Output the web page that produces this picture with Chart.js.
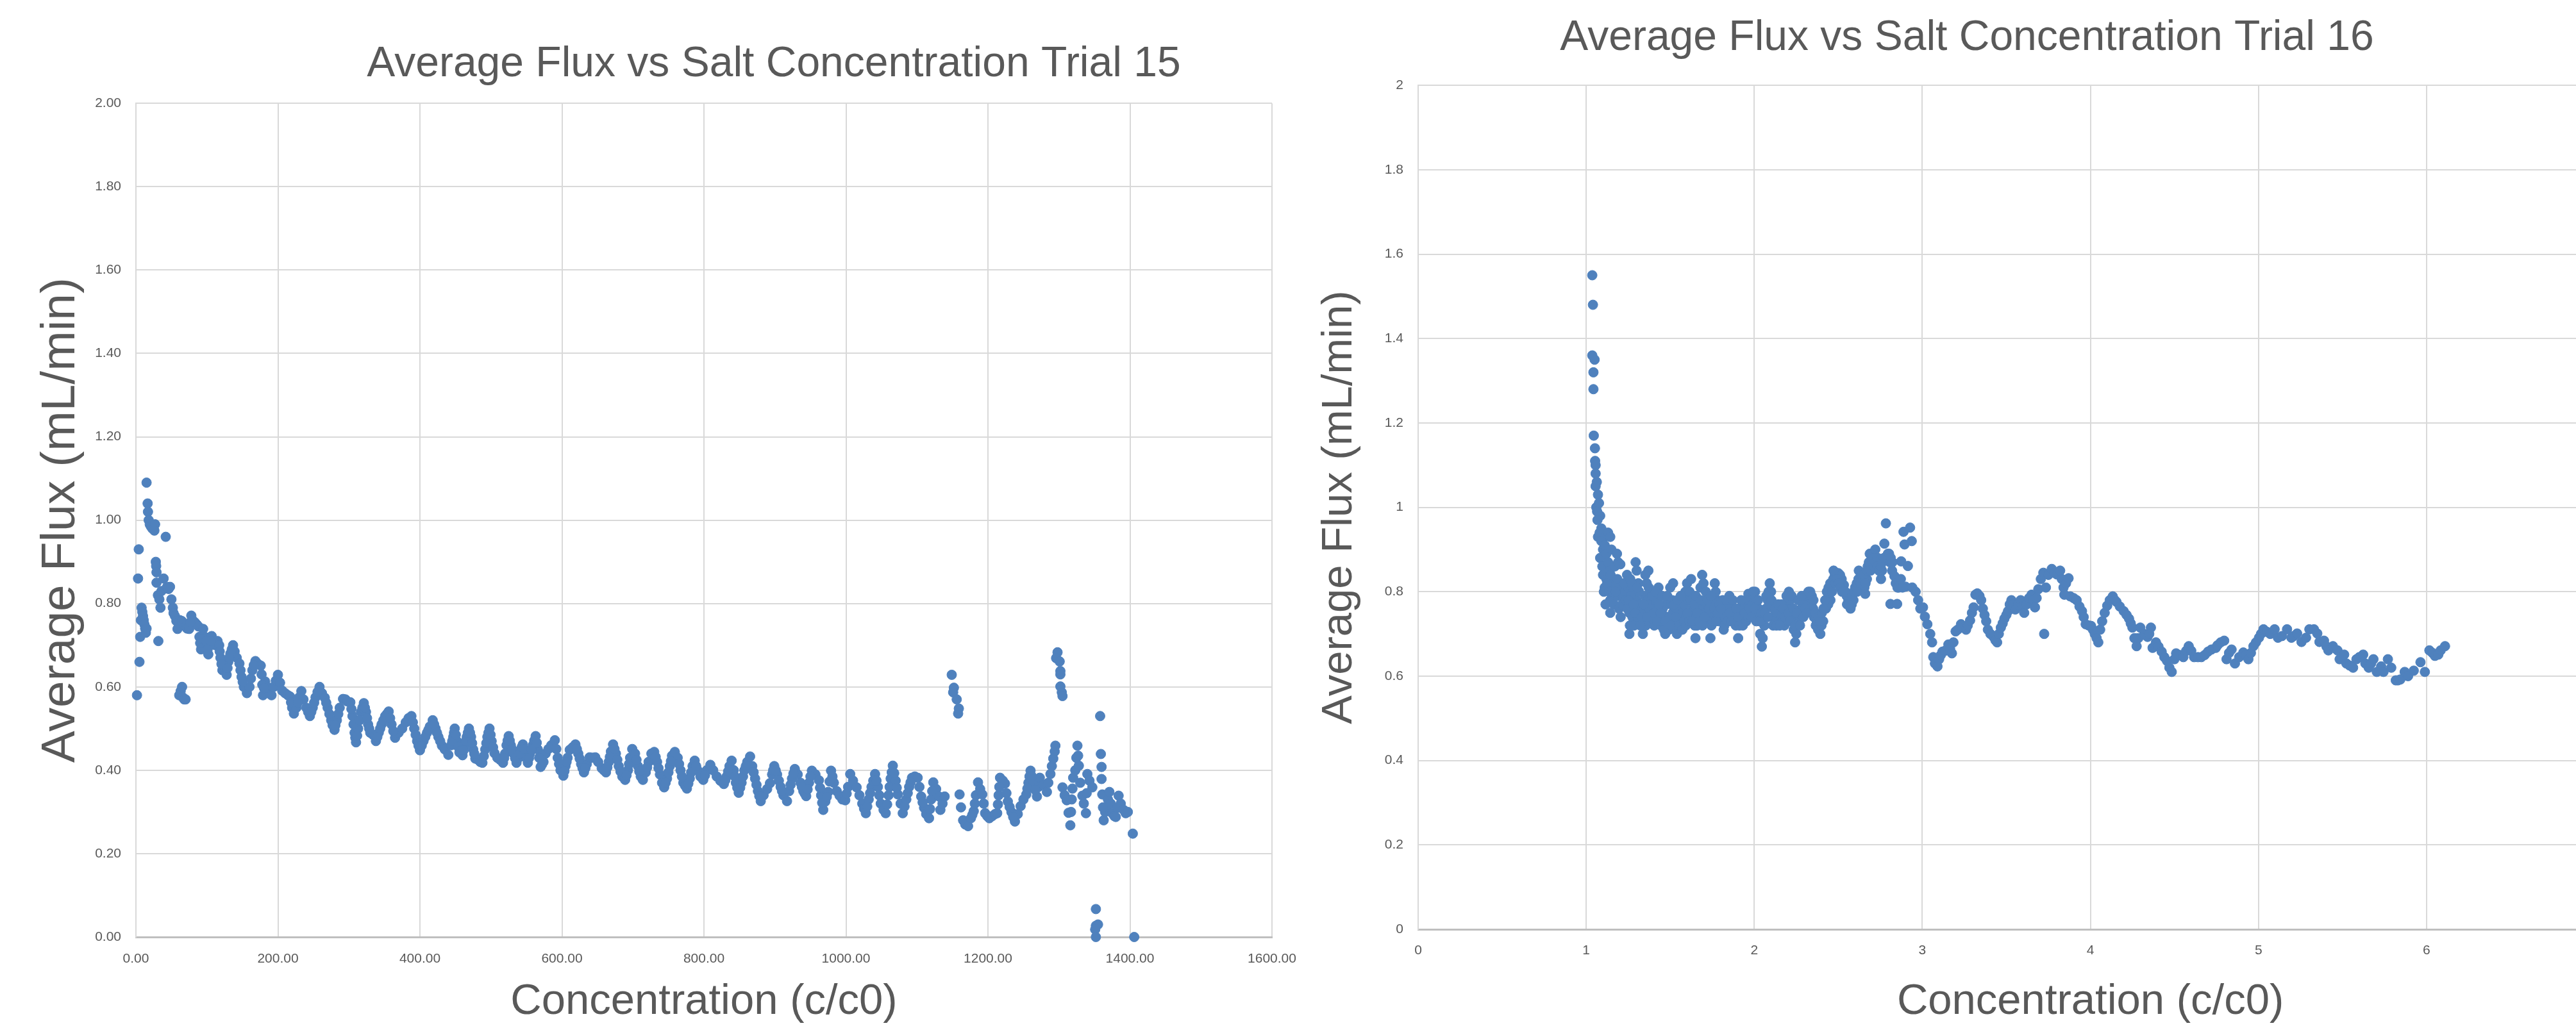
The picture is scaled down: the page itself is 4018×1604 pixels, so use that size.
<!DOCTYPE html>
<html>
<head>
<meta charset="utf-8">
<title>Average Flux vs Salt Concentration</title>
<script src="https://cdn.jsdelivr.net/npm/chart.js@4.4.1/dist/chart.umd.min.js"></script>
<style>
  html, body { margin: 0; padding: 0; background: #fff; overflow: hidden; width: 4018px; height: 1604px; }
  canvas { position: absolute; top: 0; }
  #trial15 { left: 0; }
  #trial16 { left: 1800px; }
</style>
</head>
<body>
<canvas id="trial15" width="2414" height="1604"></canvas>
<canvas id="trial16" width="2536" height="1604"></canvas>
<script>
"use strict";

// ---- Trial 15: [concentration c/c0, average flux mL/min] ----
const t15Start = [
  [1.5,.58],[3,.86],[4,.93],[5,.66],[6,.72],[7,.76],[8,.79],[9,.78],[10,.77],[11,.76],
  [12,.75],[13,.74],[14,.73],[15,.74],[15,1.09],[16.5,1.04],[17,1.02],[18,1.00],[19.5,.99],[21,.985],
  [23,.98],[25,.98],[27,.99],[26,.975],[28,.90],[28.5,.89],[29,.875],[31.6,.71],[29,.85],[31,.82],
  [33,.81],[34.6,.79],[36,.83],[39,.86],[42,.96],[44,.84],[46,.835],[48,.84],[50,.81],[52,.79],
  [53,.777],[55,.77],[57,.758],[58.6,.739],[61,.58],[63,.59],[65,.60],[66,.575],[68,.57],[70,.57]
];
const t15Early = [
  [62,.76],[64.7,.758],[67,.75],[70,.745],[72,.74],[75,.739],[78,.771],[80,.76],[83,.755],[85.6,.75],
  [88,.745],[91.7,.69],[94.7,.739],[97,.72],[100,.70],[102,.678],[104,.70],[106.7,.722],[109,.71],[112,.70],
  [115,.71],[117.3,.70],[119,.67],[121.8,.64],[124,.65],[127.8,.629],[130,.66],[133,.68],[136.8,.70],[139,.685],
  [142,.67],[145.8,.656],[148.8,.624],[152,.60],[156.3,.585],[160,.60],[164,.64],[168.3,.662],[172,.655],[175.8,.651],
  [179,.58],[182,.613],[185,.60],[188,.585],[191,.58],[194,.60],[197,.615],[200,.629],[203,.61],[206,.591],
  [210,.585],[214,.58],[217,.577],[220,.55],[222.5,.536],[226,.55],[230,.575],[233,.59],[236,.57],[240,.55],
  [245,.53],[249,.55],[253,.575],[258.6,.60],[262,.585],[266,.574],[270,.55],[275,.52],[279.7,.497],[283,.52],
  [287,.55],[291.7,.571],[295,.57],[298,.565],[302,.563],[305,.53],[308,.49],[310,.467],[313,.50],[317,.54],
  [321,.561],[324,.54],[327,.51],[330,.49],[334,.485],[338,.47],[342,.49],[346,.51],[351,.53],[356,.541],
  [360,.51],[365,.478],[370,.49],[375,.50],[380,.515],[384,.525],[388,.53],[392,.50],[396,.47],[400,.448],
  [405,.47],[410,.49],[414,.505],[418,.52],[422,.50],[426,.48],[431,.459],[435,.45],[440,.437],[444,.46],
  [447,.48],[449,.50],[452,.47],[455.6,.443]
];
const t15Middle = [
  [458,.46],[460,.436],[463,.46],[466,.48],[469,.50],[472,.48],[475,.45],[478,.428],[482,.425],[485,.42],
  [488,.418],[492,.45],[495,.48],[498,.50],[501,.47],[505,.441],[509,.43],[513,.425],[517,.418],[520,.44],
  [522,.46],[525,.482],[528,.46],[532,.44],[536,.418],[539,.43],[542,.45],[545,.462],[548,.44],[552,.418],
  [555,.44],[559,.46],[563,.482],[566,.45],[570,.408],[574,.42],[577,.44],[581,.451],[585,.46],[590,.472],
  [594,.43],[598,.40],[602,.387],[605,.41],[608,.43],[611,.449],[615,.455],[619,.462],[623,.44],[627,.415],
  [631,.395],[635,.415],[639,.431],[643,.43],[647,.431],[651,.42],[656,.405],[662,.395],[666,.42],[669,.445],
  [672,.462],[676,.44],[680,.41],[685,.385],[689,.377],[693,.40],[696,.43],[699,.451],[703,.44],[707,.41],
  [711,.385],[714,.377],[718,.395],[722,.42],[726,.44],[730,.444],[734,.42],[738,.39],[741,.37],[744,.359],
  [748,.38],[752,.41],[755,.435],[759,.444],[763,.43],[767,.40],[771,.37],[776,.356],[780,.38],[784,.41],
  [787,.423],[791,.40],[795,.385],[799,.377],[804,.40],[809,.413],[813,.40],[818,.385],[823,.375],[828,.367],
  [832,.385],[836,.41],[839,.423],[842,.40],[845,.37],[849,.346],[853,.37],[857,.40],[861,.42],[865,.433],
  [868,.41],[872,.38],[876,.35],[880,.326],[884,.34],[889,.355],[893,.369],[896,.39],[899,.41],[903,.39],
  [908,.36],[912,.34],[917,.326],[920,.35],[924,.38],[928,.403],[932,.39],[936,.37],[940,.35],[944,.338]
];
const t15Late = [
  [948,.37],[952,.399],[957,.39],[962,.376],[965,.34],[968,.305],[971,.325],[975,.348],[979,.399],[983,.37],
  [987,.35],[991,.339],[995,.33],[999,.328],[1003,.36],[1006,.391],[1010,.375],[1015,.359],[1019,.34],[1023,.32],
  [1028,.297],[1032,.33],[1036,.36],[1041,.391],[1045,.36],[1049,.32],[1053,.305],[1056,.297],[1060,.34],[1063,.38],
  [1066,.411],[1070,.375],[1073,.342],[1077,.32],[1080,.297],[1085,.33],[1089,.36],[1093,.382],[1097,.385],[1101,.382],
  [1106,.337],[1110,.31],[1113,.295],[1117,.285],[1120,.33],[1123,.371],[1127,.355],[1131,.337],[1133,.305],[1136,.32],
  [1139,.337],[1149,.629],[1152,.598],[1151,.587],[1156,.570],[1159,.548],[1158,.536],[1160,.342],[1162,.311],[1165,.280],
  [1168,.27],[1172,.266],[1176,.285],[1180,.302],[1183,.34],[1186,.371],[1189,.355],[1192,.342],[1196,.297],[1199,.29],
  [1202,.285],[1206,.29],[1210,.295],[1213,.297],[1215,.34],[1217,.382],[1221,.375],[1224,.368],[1226,.345],[1228,.325],
  [1233,.30],[1238,.277],[1242,.295],[1246,.314],[1250,.33],[1254,.342],[1257,.37],[1260,.399],[1264,.37],[1269,.337],
  [1271,.36],[1273,.382],[1278,.365],[1283,.348],[1285,.37],[1288,.391],[1290,.41],[1292,.428],[1294,.445],[1295,.459],
  [1298,.683],[1296,.669],[1301,.661],[1302,.638],[1302,.630],[1302,.601],[1304,.587],[1305,.578],[1305,.359],[1308,.34],
  [1311,.328],[1316,.268],[1318,.33],[1320,.382],[1323,.40],[1326,.459],[1328,.411],[1330,.37],[1333,.339],[1335,.32],
  [1338,.297],[1340,.391],[1343,.375],[1347,.359],[1352,.067],[1352,.027],[1355,.030],[1351,.018],[1352,0],[1358,.530],
  [1359,.439],[1360,.408],[1360,.379],[1361,.342],[1363,.280],[1365,.30],[1367,.311],[1369,.33],[1371,.348],[1373,.32],
  [1375,.297],[1378,.29],[1380,.288],[1382,.31],[1384,.339],[1387,.32],[1391,.305],[1394,.297],[1397,.30],[1404,.248],
  [1406,0]
];
// dots packed between the peaks and troughs of the band
const t15Fill = [
  [76.5,.755],[89.5,.72],[90.5,.705],[93,.715],[98.5,.71],[101,.69],[105.3,.71],[118,.685],[120.5,.655],[129,.645],
  [131.5,.67],[135,.69],[147.3,.64],[150.4,.612],[162,.62],[166,.652],[177,.63],[178,.605],[180.5,.597],[218.5,.563],
  [228,.562],[242.5,.54],[247,.54],[251,.562],[255.8,.588],[268,.562],[272.5,.535],[277,.508],[281,.508],[285,.535],
  [303.5,.547],[306.5,.51],[309,.478],[311.5,.483],[315,.52],[319,.55],[322.5,.55],[325.5,.525],[328.5,.50],[340,.48],
  [344,.50],[348.5,.52],[353.5,.535],[358,.525],[362.5,.494],[390,.515],[394,.485],[398,.459],[402.5,.459],[407.5,.48],
  [412,.497],[420,.51],[424,.49],[428.5,.47],[445.5,.47],[448,.49],[450.5,.485],[454,.456],
  [459,.448],[461.5,.448],[464.5,.47],[467.5,.49],[470.5,.49],[473.5,.465],[476.5,.44],[490,.434],[493.5,.465],[496.5,.49],
  [499.5,.485],[503,.455],[518.5,.429],[523.5,.471],[526.5,.471],[530,.45],[534,.429],[540.5,.44],[543.5,.456],[546.5,.451],
  [550,.429],[553.5,.429],[557,.45],[561,.471],[564.5,.466],[568,.43],[572,.414],[592,.451],[596,.415],[603.5,.398],
  [606.5,.42],[621,.451],[625,.428],[629,.405],[633,.405],[659,.40],[664,.407],[667.5,.432],[674,.451],[678,.425],
  [682.5,.397],[691,.388],[694.5,.415],[705,.425],[709,.397],[720,.407],[732,.432],[736,.405],[746,.37],[750,.395],
  [753.5,.422],[765,.415],[769,.385],[773.5,.363],[778,.368],[782,.395],[789,.41],[801.5,.388],[830,.376],[834,.397],
  [843.5,.385],[847,.358],[851,.358],[855,.385],[859,.41],[870,.395],[874,.365],[878,.338],[897.5,.40],[901,.40],
  [905.5,.375],[910,.35],[922,.365],[926,.392],[938,.36],[942,.344],
  [946,.354],[950,.385],[963.5,.358],[966.5,.322],[973,.336],[977,.373],[981,.385],[1001,.344],[1025.5,.308],[1030,.313],
  [1034,.345],[1038.5,.375],[1043,.375],[1047,.34],[1058,.318],[1061.5,.36],[1064.5,.395],[1068,.393],[1071.5,.358],[1082.5,.313],
  [1087,.345],[1091,.371],[1103.5,.36],[1108,.323],[1118.5,.307],[1121.5,.35],[1178,.293],[1181.5,.32],[1194,.32],[1214,.318],
  [1216,.36],[1230.5,.312],[1235.5,.288],[1255.5,.356],[1258.5,.385],[1262,.385],[1266.5,.353],[1313.5,.298],[1317,.30],[1319,.356],
  [1324.5,.43],[1327,.435],[1339,.345],[1362,.311]
];

// ---- Trial 16 ----
const t16Spike = [
  [1.036,1.55],[1.04,1.48],[1.036,1.36],[1.05,1.35],[1.043,1.32],[1.043,1.28],[1.045,1.17],[1.052,1.14],[1.053,1.11],[1.056,1.10],
  [1.056,1.08],[1.063,1.06],[1.056,1.05],[1.07,1.03],[1.06,1.00],[1.076,1.01],[1.065,.99],[1.083,.98],[1.067,.97],[1.09,.95],
  [1.07,.93],[1.08,.94],[1.11,.93],[1.13,.94],[1.09,.92],[1.1,.90],[1.083,.88],[1.096,.86],[1.11,.91],[1.12,.89],
  [1.143,.93],[1.15,.90],[1.13,.87],[1.1,.84],[1.11,.81],[1.12,.83],[1.14,.85],[1.143,.78],[1.143,.75],[1.163,.82],
  [1.17,.86],[1.183,.89],[1.19,.87],[1.203,.865],[1.19,.79],[1.2,.81],[1.217,.79],[1.23,.80],[1.243,.84],[1.25,.81],
  [1.257,.75],[1.257,.70],[1.26,.72],[1.27,.76],[1.28,.80],[1.294,.87],[1.30,.85],[1.31,.82],[1.30,.78],[1.297,.725],
  [1.31,.75],[1.32,.77],[1.337,.70],[1.34,.73],[1.35,.79],[1.36,.82],[1.37,.85],[1.38,.80],[1.39,.76],[1.397,.73],
  [1.41,.77],[1.43,.81],[1.44,.79],[1.45,.75],[1.47,.70],[1.48,.74],[1.49,.78],[1.50,.81],[1.517,.82],[1.524,.74],
  [1.53,.72],[1.54,.70],[1.55,.74],[1.56,.76],[1.578,.78],[1.59,.80],[1.60,.82],[1.624,.83],[1.63,.79],[1.64,.74],
  [1.65,.69],[1.66,.72],[1.67,.77],[1.68,.81],[1.69,.84],[1.698,.82],[1.71,.78],[1.72,.73],[1.739,.69],[1.75,.75],
  [1.765,.82],[1.78,.78],[1.80,.74],[1.818,.71],[1.83,.75],[1.852,.79],[1.87,.76],[1.89,.72],[1.904,.69],[1.92,.73],
  [1.94,.77],[1.965,.795],[1.98,.78],[2.005,.80],[2.02,.75],[2.035,.70],[2.045,.67],[2.06,.72],[2.08,.78],[2.092,.82],
  [2.10,.80],[2.115,.76],[2.126,.73],[2.15,.75],[2.179,.72],[2.19,.76],[2.206,.80],[2.22,.76],[2.235,.71],[2.243,.68],
  [2.26,.72],[2.28,.76],[2.313,.79],[2.333,.80],[2.35,.76],[2.366,.72],[2.393,.70],[2.41,.73],[2.426,.76],[2.453,.78],
  [2.46,.82],[2.48,.84],[2.50,.844],[2.52,.83],[2.533,.816],[2.55,.79],[2.573,.76],[2.59,.78],[2.60,.81],[2.62,.83],
  [2.634,.844],[2.66,.795],[2.67,.83],[2.687,.89],[2.70,.89],[2.72,.90],[2.735,.88],[2.754,.83],[2.774,.914],[2.783,.962],
  [2.795,.89],[2.807,.87],[2.82,.85],[2.834,.837],[2.86,.81],[2.81,.771],[2.85,.771],[2.874,.872],[2.888,.942],[2.927,.952],
  [2.894,.912],[2.937,.92],[2.914,.861],[2.90,.812],[2.94,.81],[2.96,.80],[2.975,.78],[2.988,.76]
];
const t16Band = [
  [1.105,.80],[1.115,.77],[1.125,.82],[1.135,.80],[1.145,.84],[1.155,.80],[1.165,.77],[1.175,.80],[1.185,.83],[1.195,.76],
  [1.205,.74],[1.215,.77],[1.225,.82],[1.235,.78],[1.245,.76],[1.265,.79],[1.275,.74],[1.285,.72],[1.305,.74],[1.315,.80],
  [1.325,.76],[1.345,.75],[1.355,.72],[1.365,.78],[1.375,.76],[1.385,.74],[1.405,.72],[1.415,.75],[1.425,.78],[1.435,.74],
  [1.445,.72],[1.455,.76],[1.465,.74],[1.475,.77],[1.485,.72],[1.495,.74],[1.505,.77],[1.515,.75],[1.535,.76],[1.545,.73],
  [1.565,.72],[1.575,.75],[1.585,.77],[1.595,.74],[1.605,.78],[1.615,.80],[1.635,.76],[1.645,.72],[1.655,.74],[1.675,.76],
  [1.685,.74],[1.705,.76],[1.715,.75],[1.725,.76],[1.735,.73],[1.745,.72],[1.755,.78],[1.77,.80],[1.785,.76],[1.79,.73],
  [1.81,.75],[1.825,.74],[1.84,.77],[1.86,.78],[1.875,.74],[1.885,.75],[1.91,.76],[1.925,.74],[1.935,.76],[1.95,.78],
  [1.96,.76],[1.99,.77],[2.01,.78],[2.025,.76],[2.04,.73],[2.05,.69],[2.055,.74],[2.07,.76],[2.085,.80],[2.11,.74],
  [2.135,.75],[2.16,.74],[2.17,.73],[2.20,.78],[2.215,.78],[2.23,.74],[2.25,.70],[2.27,.74],[2.29,.78],[2.30,.79],
  [2.32,.77],[2.34,.77],[2.355,.74],[2.38,.71],[2.40,.72],[2.44,.77],[2.47,.83],[2.51,.84],[2.56,.78],[2.58,.77],
  [2.61,.82],[2.645,.82],[2.655,.81],[2.675,.86],[2.69,.87],[2.71,.88],[2.745,.86],[2.76,.85],[2.79,.88]
];
const t16Fill = [
  [1.252,.78],[1.262,.83],[1.272,.82],[1.282,.77],[1.292,.75],[1.302,.81],[1.322,.72],[1.332,.74],[1.342,.77],[1.352,.84],
  [1.362,.74],[1.372,.81],[1.392,.79],[1.402,.75],[1.412,.80],[1.422,.73],[1.432,.77],[1.442,.75],[1.452,.79],[1.462,.71],
  [1.472,.73],[1.482,.79],[1.492,.71],[1.502,.72],[1.512,.78],[1.522,.77],[1.532,.74],[1.542,.78],[1.552,.72],[1.562,.79],
  [1.572,.71],[1.582,.73],[1.592,.72],[1.602,.75],[1.612,.73],[1.622,.78],[1.632,.73],[1.642,.77],[1.652,.79],[1.662,.75],
  [1.672,.73],[1.682,.78],[1.692,.72],[1.702,.74],[1.712,.80],[1.722,.78],[1.732,.76],[1.742,.79],[1.752,.73],[1.762,.76],
  [1.772,.73],[1.782,.75],[1.792,.77],[1.802,.76],[1.812,.78],[1.822,.72],[1.832,.78],[1.842,.73],[1.852,.75],[1.862,.73],
  [1.872,.78],[1.882,.73],[1.892,.76],[1.902,.74],[1.912,.72],[1.922,.78],[1.932,.72],[1.942,.75],[1.952,.73],[1.962,.74],
  [1.972,.76],[1.982,.74],[1.992,.80],[2.002,.76],[2.012,.73],[2.022,.78],[2.032,.73],[2.042,.75],[2.062,.75],[2.072,.79],
  [2.082,.74],[2.092,.77],[2.102,.78],[2.112,.72],[2.122,.76],[2.132,.72],[2.142,.77],[2.152,.72],[2.162,.77],[2.172,.76],
  [2.182,.74],[2.192,.79],[2.202,.75],[2.212,.73],[2.222,.79],[2.232,.76],[2.242,.72],[2.252,.75],[2.262,.78],[2.272,.72],
  [2.282,.79],[2.292,.74],[2.302,.76],[2.312,.75],[2.322,.80],[2.342,.79],[2.352,.78],[2.362,.75],[2.372,.73],[2.382,.74],
  [2.392,.73],[2.402,.75],[2.412,.76],[2.422,.78],[2.432,.80],[2.442,.81],[2.452,.82],[2.462,.80],[2.472,.85],[2.482,.82],
  [2.492,.83],[2.502,.82],[2.512,.81],[2.522,.80],[2.542,.80],[2.552,.77],[2.562,.77],[2.582,.79],[2.592,.80],[2.612,.80],
  [2.622,.85],[2.632,.82],[2.642,.84],[2.652,.84],[2.662,.82],[2.672,.85],[2.682,.87],[2.692,.85],[2.702,.87],[2.712,.86],
  [2.722,.87],[2.732,.86],[2.742,.85],[2.752,.86],[2.762,.87],[2.772,.88],[2.802,.89],[2.812,.88],[2.822,.87],[2.842,.82],
  [2.852,.81],[2.872,.83],[2.882,.81]
];
const t16Tail = [
  [3.004,.763],[3.015,.741],[3.03,.723],[3.047,.70],[3.058,.68],[3.065,.645],[3.075,.63],[3.09,.623],[3.10,.64],[3.11,.65],
  [3.12,.658],[3.135,.66],[3.155,.675],[3.165,.665],[3.176,.654],[3.185,.68],[3.198,.706],[3.21,.71],[3.23,.723],[3.245,.715],
  [3.26,.71],[3.27,.72],[3.284,.732],[3.295,.75],[3.305,.763],[3.316,.793],[3.327,.796],[3.34,.79],[3.35,.78],[3.36,.76],
  [3.37,.745],[3.38,.73],[3.39,.71],[3.405,.70],[3.424,.693],[3.435,.685],[3.445,.68],[3.455,.70],[3.467,.715],[3.478,.725],
  [3.488,.736],[3.50,.745],[3.51,.754],[3.52,.77],[3.53,.78],[3.54,.77],[3.553,.758],[3.57,.77],[3.585,.78],[3.595,.765],
  [3.606,.75],[3.62,.77],[3.635,.785],[3.65,.793],[3.66,.78],[3.67,.763],[3.68,.785],[3.69,.806],[3.705,.83],[3.72,.845],
  [3.725,.70],[3.735,.81],[3.75,.84],[3.77,.854],[3.785,.845],[3.80,.841],[3.81,.845],[3.82,.85],[3.83,.83],[3.84,.81],
  [3.855,.82],[3.87,.832],[3.845,.793],[3.88,.789],[3.90,.785],[3.918,.78],[3.935,.765],[3.95,.754],[3.96,.74],[3.972,.723],
  [3.99,.72],[4.004,.719],[4.015,.71],[4.026,.70],[4.037,.69],[4.047,.68],[4.058,.71],[4.07,.73],[4.085,.75],[4.10,.767],
  [4.115,.78],[4.133,.789],[4.145,.78],[4.155,.776],[4.175,.765],[4.198,.754],[4.215,.745],[4.23,.736],[4.24,.725],[4.25,.715],
  [4.262,.69],[4.275,.671],[4.285,.69],[4.297,.715],[4.32,.70],[4.34,.693],[4.35,.70],[4.36,.715],[4.37,.667],[4.39,.68],
  [4.405,.67],[4.424,.658],[4.44,.645],[4.456,.636],[4.47,.62],[4.484,.61],[4.50,.64],[4.51,.654],[4.53,.65],[4.553,.645],
  [4.57,.66],[4.585,.671],[4.60,.66],[4.617,.645],[4.64,.645],[4.66,.645],[4.68,.65],[4.70,.658],[4.72,.663],[4.746,.667],
  [4.756,.673],[4.775,.68],[4.796,.684],[4.81,.64],[4.825,.655],[4.84,.663],[4.86,.63],[4.885,.645],[4.91,.656],[4.925,.65],
  [4.94,.64],[4.955,.655],[4.97,.671],[4.985,.68],[5.003,.691],[5.015,.70],[5.03,.711],[5.05,.705],[5.07,.70],[5.096,.711],
  [5.116,.691],[5.14,.695],[5.17,.711],[5.196,.691],[5.21,.695],[5.23,.701],[5.256,.681],[5.283,.691],[5.303,.711],[5.33,.711],
  [5.35,.701],[5.363,.681],[5.39,.684],[5.405,.67],[5.416,.661],[5.443,.671],[5.47,.661],[5.483,.64],[5.51,.651],[5.523,.63],
  [5.543,.625],[5.563,.62],[5.583,.64],[5.60,.645],[5.623,.651],[5.636,.63],[5.656,.62],[5.67,.63],[5.684,.64],[5.704,.61],
  [5.73,.623],[5.744,.61],[5.77,.64],[5.79,.62],[5.817,.59],[5.83,.59],[5.844,.592],[5.87,.61],[5.89,.60],[5.924,.613],
  [5.964,.633],[5.99,.61],[6.017,.661],[6.035,.655],[6.05,.648],[6.07,.651],[6.084,.661],[6.11,.671]
];

// axis ranges [min, max, step]
const t15XRange = [0, 1600, 200];
const t16XRange = [0, 8, 1];
const fluxRange = [0, 2, 0.2];

const TEXT = '#595959';
const GRID = '#d9d9d9';
const AXIS = '#bfbfbf';
const BLUE = '#4f81bd';

Chart.defaults.font.family = "'Liberation Sans', Arial, sans-serif";
Chart.defaults.color = TEXT;

function toPoints(list) {
  return list.map(p => ({x: p[0], y: p[1]}));
}

function buildConfig(cfg) {
  let scales = {
    x: {
      type: 'linear',
      position: 'bottom',
      min: cfg.xRange[0],
      max: cfg.xRange[1],
      ticks: {
        stepSize: cfg.xRange[2],
        autoSkip: false,
        maxRotation: 0,
        padding: cfg.xTickPad,
        color: TEXT,
        font: {size: 21},
        callback: cfg.fmt
      },
      grid: {color: GRID, lineWidth: 2, drawTicks: false},
      border: {color: AXIS, width: 3},
      title: {
        display: true,
        text: 'Concentration (c/c0)',
        color: TEXT,
        font: {size: 67},
        padding: {top: 0, bottom: 0}
      },
      afterFit: s => { s.height = cfg.xAxisHeight; }
    },
    y: {
      type: 'linear',
      position: 'left',
      min: fluxRange[0],
      max: fluxRange[1],
      ticks: {
        stepSize: fluxRange[2],
        padding: 23,
        color: TEXT,
        font: {size: 21},
        callback: cfg.fmt
      },
      grid: {color: GRID, lineWidth: 2, drawTicks: false},
      border: {color: GRID, width: 2},
      title: {
        display: true,
        text: 'Average Flux (mL/min)',
        color: TEXT,
        font: {size: cfg.yTitleSize},
        padding: {top: cfg.yTitlePad, bottom: 0}
      },
      afterFit: s => { s.width = cfg.yAxisWidth; }
    }
  };

  // empty right-hand gutter so the chart title centres over the whole chart object
  if (cfg.rightGutter) {
    scales.gutter = {
      type: 'linear',
      position: 'right',
      min: 0,
      max: 1,
      ticks: {display: false},
      grid: {display: false, drawTicks: false},
      border: {display: false},
      afterFit: s => { s.width = cfg.rightGutter; }
    };
  }

  return {
    type: 'scatter',
    data: {
      datasets: [{
        label: cfg.title,
        data: cfg.points,
        pointRadius: 7.5,
        pointHoverRadius: 7.5,
        pointBackgroundColor: BLUE,
        pointBorderColor: BLUE,
        pointBorderWidth: 1,
        clip: false
      }]
    },
    options: {
      responsive: false,
      animation: false,
      devicePixelRatio: 1,
      events: [],
      layout: {padding: 0},
      plugins: {
        legend: {display: false},
        tooltip: {enabled: false},
        title: {
          display: true,
          text: cfg.title,
          color: TEXT,
          font: {size: 66, weight: 'normal'},
          padding: cfg.titlePad
        }
      },
      scales: scales
    }
  };
}

new Chart(document.getElementById('trial15'), buildConfig({
  title: 'Average Flux vs Salt Concentration Trial 15',
  points: toPoints([].concat(t15Start, t15Early, t15Middle, t15Late, t15Fill)),
  xRange: t15XRange,
  fmt: v => Number(v).toFixed(2),
  titlePad: {top: 61, bottom: 21},
  xTickPad: 22,
  xAxisHeight: 142,
  yAxisWidth: 212,
  yTitleSize: 75,
  yTitlePad: 50,
  rightGutter: 430
}));

new Chart(document.getElementById('trial16'), buildConfig({
  title: 'Average Flux vs Salt Concentration Trial 16',
  points: toPoints([].concat(t16Spike, t16Band, t16Fill, t16Tail)),
  xRange: t16XRange,
  fmt: v => String(Math.round(v * 10) / 10),
  titlePad: {top: 20, bottom: 34},
  xTickPad: 21,
  xAxisHeight: 154,
  yAxisWidth: 412,
  yTitleSize: 67,
  yTitlePad: 249,
  rightGutter: 0
}));
</script>
</body>
</html>
